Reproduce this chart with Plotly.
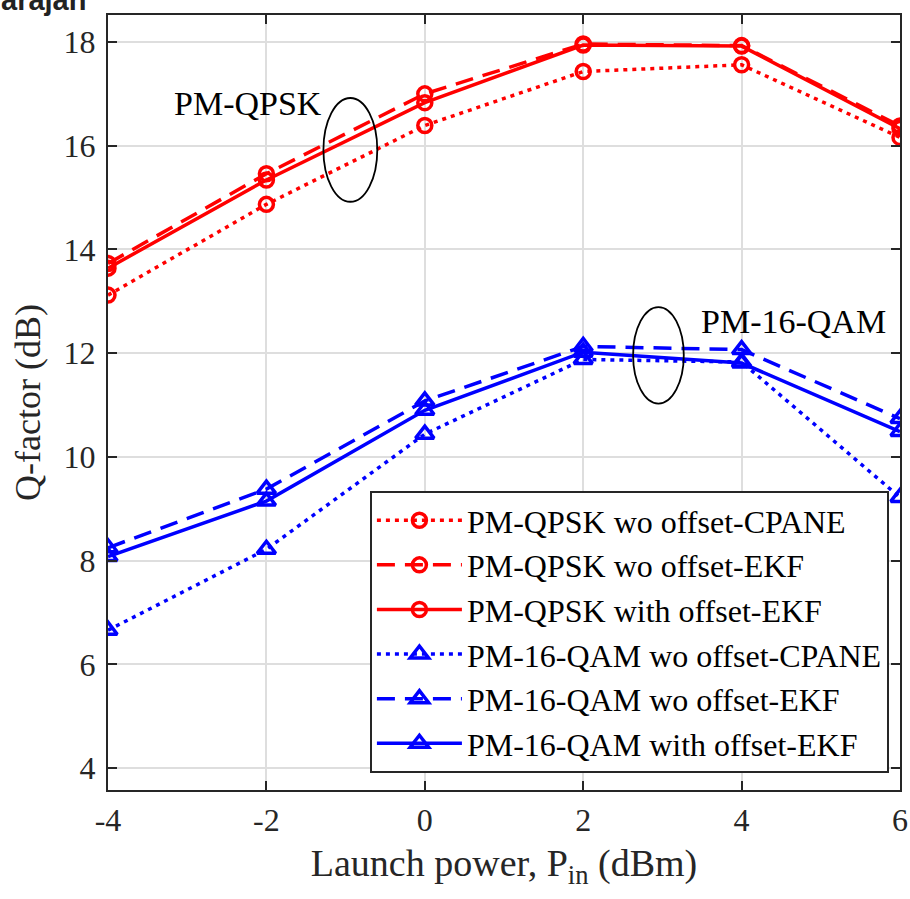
import plotly.graph_objects as go

x_power = [-4, -2, 0, 2, 4, 6]

qpsk_wo_cpane = [13.12, 14.87, 16.39, 17.43, 17.56, 16.16]
qpsk_wo_ekf = [13.73, 15.46, 17.00, 17.96, 17.93, 16.38]
qpsk_with_ekf = [13.64, 15.34, 16.83, 17.94, 17.92, 16.33]
qam_wo_cpane = [6.66, 8.22, 10.44, 11.88, 11.83, 9.22]
qam_wo_ekf = [8.25, 9.38, 11.08, 12.13, 12.07, 10.74]
qam_with_ekf = [8.08, 9.15, 10.90, 12.02, 11.81, 10.49]

series_names = [
    "PM-QPSK wo offset-CPANE",
    "PM-QPSK wo offset-EKF",
    "PM-QPSK with offset-EKF",
    "PM-16-QAM wo offset-CPANE",
    "PM-16-QAM wo offset-EKF",
    "PM-16-QAM with offset-EKF",
]
x_ticks = [-4, -2, 0, 2, 4, 6]
x_tick_labels = ["-4", "-2", "0", "2", "4", "6"]
y_ticks = [4, 6, 8, 10, 12, 14, 16, 18]
y_tick_labels = ["4", "6", "8", "10", "12", "14", "16", "18"]

FONT = "Liberation Serif"
RED = "#ff0000"
BLUE = "#0000ff"
DOT = "4px,5px"
DASH = "18px,10px"

series = [
    (qpsk_wo_cpane, RED, DOT, "circle-open", 14),
    (qpsk_wo_ekf, RED, DASH, "circle-open", 14),
    (qpsk_with_ekf, RED, "solid", "circle-open", 14),
    (qam_wo_cpane, BLUE, DOT, "triangle-up-open", 16),
    (qam_wo_ekf, BLUE, DASH, "triangle-up-open", 16),
    (qam_with_ekf, BLUE, "solid", "triangle-up-open", 16),
]

fig = go.Figure()
for name, (ys, col, dash, sym, msize) in zip(series_names, series):
    fig.add_trace(go.Scatter(
        x=x_power, y=ys, name=name, mode="lines+markers",
        line=dict(color=col, width=3.5, dash=dash),
        marker=dict(symbol=sym, size=msize, color=col, line=dict(color=col, width=3.5)),
    ))

# ellipses
fig.add_shape(type="circle", xref="x", yref="y", x0=-1.28, x1=-0.60, y0=14.92, y1=16.92,
              line=dict(color="black", width=1.8))
fig.add_shape(type="circle", xref="x", yref="y", x0=2.63, x1=3.27, y0=11.03, y1=12.89,
              line=dict(color="black", width=1.8))

fig.add_annotation(x=-2.23, y=16.82, xref="x", yref="y", text="PM-QPSK", showarrow=False,
                   font=dict(family=FONT, size=34, color="black"))
fig.add_annotation(x=4.66, y=12.62, xref="x", yref="y", text="PM-16-QAM", showarrow=False,
                   font=dict(family=FONT, size=34, color="black"))
# cropped remnant text at the top-left of the page
fig.add_annotation(x=-0.025, y=0.9961, xref="paper", yref="paper", text="<b>arajan</b>",
                   showarrow=False, xanchor="right", yanchor="bottom",
                   font=dict(family="Liberation Sans", size=29, color="#222222"))

axis_common = dict(
    showline=True, linecolor="#262626", linewidth=2, mirror="allticks",
    ticks="inside", ticklen=9, tickwidth=2, tickcolor="#262626",
    showgrid=True, gridcolor="#dedede", gridwidth=2, zeroline=False,
    tickfont=dict(family=FONT, size=32, color="#262626"),
    automargin=False,
)

fig.update_layout(
    width=910, height=899,
    margin=dict(l=108, r=10, t=15, b=109),
    paper_bgcolor="white", plot_bgcolor="white",
    font=dict(family=FONT, color="#262626"),
    xaxis=dict(range=[-4, 6], tickmode="array", tickvals=x_ticks, ticktext=x_tick_labels,
               ticklabelstandoff=1,
               title=dict(text="Launch power, P<sub>in</sub> (dBm)", standoff=12,
                          font=dict(family=FONT, size=38, color="#262626")),
               **axis_common),
    yaxis=dict(range=[3.58, 18.52], tickmode="array", tickvals=y_ticks, ticktext=y_tick_labels,
               ticklabelstandoff=4,
               title=dict(text="Q-factor (dB)", standoff=12,
                          font=dict(family=FONT, size=36, color="#262626")),
               **axis_common),
    legend=dict(x=0.986, y=0.022, xanchor="right", yanchor="bottom",
                bgcolor="white", bordercolor="#262626", borderwidth=2,
                font=dict(family=FONT, size=32, color="black"),
                itemwidth=85, tracegroupgap=0),
    showlegend=True,
)

fig.write_html("out.html", config={"displayModeBar": False},
               post_script="document.body.style.margin='0';document.body.style.overflow='hidden';")
